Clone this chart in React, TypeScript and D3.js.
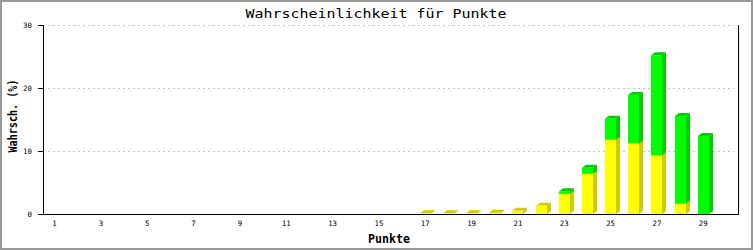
import React from "react";
import * as d3 from "d3";

const categories: number[] = Array.from({ length: 30 }, (_, i) => i + 1);
const yellowValues: number[] = [
  0, 0, 0, 0, 0, 0, 0, 0, 0, 0, 0, 0, 0, 0, 0, 0,
  0.1, 0.1, 0.1, 0.2, 0.5, 1.3, 3.2, 6.4, 11.8, 11.2, 9.3, 1.65, 0, 0,
];
const greenValues: number[] = [
  0, 0, 0, 0, 0, 0, 0, 0, 0, 0, 0, 0, 0, 0, 0, 0,
  0, 0, 0, 0, 0, 0, 0.4, 0.95, 3.3, 7.7, 15.9, 13.9, 12.4, 0,
];
const yTicks: number[] = [0, 10, 20, 30];
const xTickLabels: number[] = [1, 3, 5, 7, 9, 11, 13, 15, 17, 19, 21, 23, 25, 27, 29];
const title = "Wahrscheinlichkeit für Punkte";
const xTitle = "Punkte";
const yTitle = "Wahrsch. (%)";

const W = 753;
const H = 250;
const left = 43;
const right = 738;
const top = 25;
const bottom = 214;
const mono = "'DejaVu Sans Mono', 'Liberation Mono', monospace";

export default function App() {
  const x = d3
    .scaleBand<number>()
    .domain(categories)
    .range([left, right])
    .paddingInner(0)
    .paddingOuter(0);
  const y = d3.scaleLinear().domain([0, 30]).range([bottom, top]);
  const bw = 11;
  const dx = 4;
  const dy = 3;

  const series = [
    { values: yellowValues, front: "#ffff00", side: "#cccc00" },
    { values: greenValues, front: "#00ff00", side: "#00cc00" },
  ];

  const bars: React.ReactNode[] = [];
  categories.forEach((c, i) => {
    let base = 0;
    const cx = (x(c) as number) + x.bandwidth() / 2;
    const x0 = Math.round(cx - bw / 2);
    const x1 = x0 + bw;
    series.forEach((s, si) => {
      const v = s.values[i];
      if (v <= 0) return;
      const yb = y(base);
      const yt = y(base + v);
      base += v;
      bars.push(
        <g key={`${c}-${si}`}>
          <polygon
            points={`${x1},${yb} ${x1 + dx},${yb - dy} ${x1 + dx},${yt - dy} ${x1},${yt}`}
            fill={s.side}
          />
          <polygon
            points={`${x0},${yt} ${x0 + dx},${yt - dy} ${x1 + dx},${yt - dy} ${x1},${yt}`}
            fill={s.side}
          />
          <rect x={x0} y={yt} width={bw} height={yb - yt} fill={s.front} />
        </g>
      );
    });
  });

  return (
    <svg
      width={W}
      height={H}
      style={{ position: "absolute", left: 0, top: 0, background: "#fff" }}
    >
      <rect x={1} y={1} width={W - 2} height={H - 2} fill="#fff" stroke="#999" strokeWidth={2} />
      {yTicks
        .filter((t) => t > 0)
        .map((t) => (
          <line
            key={t}
            x1={left + 5}
            x2={right - 4}
            y1={Math.round(y(t)) + 0.5}
            y2={Math.round(y(t)) + 0.5}
            stroke="#c0c0c0"
            strokeDasharray="2,3"
          />
        ))}
      {bars}
      <line x1={left + 0.5} x2={left + 0.5} y1={top} y2={bottom} stroke="#000" />
      <line x1={right + 0.5} x2={right + 0.5} y1={top} y2={bottom} stroke="#000" />
      <line x1={left} x2={right + 1} y1={bottom + 0.5} y2={bottom + 0.5} stroke="#000" />
      {yTicks.map((t) => (
        <g key={t}>
          <line
            x1={left - 5}
            x2={left}
            y1={Math.round(y(t)) + 0.5}
            y2={Math.round(y(t)) + 0.5}
            stroke="#000"
          />
          <text
            x={32}
            y={y(t) + 2.5}
            textAnchor="end"
            fontFamily={mono}
            fontSize={7.4}
            fill="#000"
          >
            {t}
          </text>
        </g>
      ))}
      {xTickLabels.map((c) => (
        <text
          key={c}
          x={(x(c) as number) + x.bandwidth() / 2}
          y={226}
          textAnchor="middle"
          fontFamily={mono}
          fontSize={7.4}
          fill="#000"
        >
          {c}
        </text>
      ))}
      <text
        x={376}
        y={18}
        textAnchor="middle"
        fontFamily={mono}
        fontSize={12.5}
        textLength={261}
        lengthAdjust="spacingAndGlyphs"
        fill="#000"
      >
        {title}
      </text>
      <text
        x={389}
        y={243}
        textAnchor="middle"
        fontFamily={mono}
        fontSize={11.5}
        fontWeight="bold"
        textLength={42}
        lengthAdjust="spacingAndGlyphs"
        fill="#000"
      >
        {xTitle}
      </text>
      <text
        transform={`translate(17,116) rotate(-90)`}
        textAnchor="middle"
        fontFamily={mono}
        fontSize={12}
        fontWeight="bold"
        textLength={73}
        lengthAdjust="spacingAndGlyphs"
        fill="#000"
      >
        {yTitle}
      </text>
    </svg>
  );
}
